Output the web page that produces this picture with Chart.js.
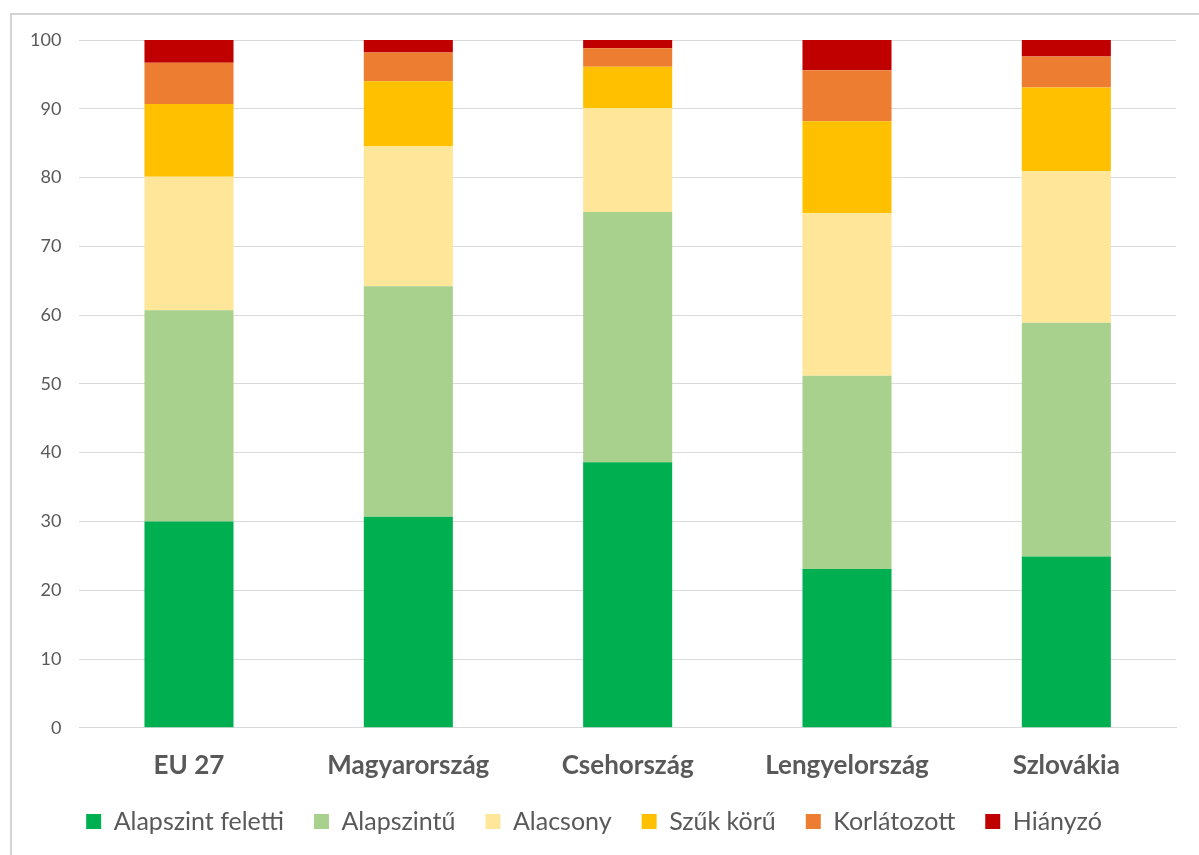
<!DOCTYPE html>
<html>
<head>
<meta charset="utf-8">
<script src="https://cdn.jsdelivr.net/npm/chart.js@4.4.0/dist/chart.umd.min.js"></script>
<style>
  html, body { margin: 0; padding: 0; background: #fff; overflow: hidden; }
  #frame { position: absolute; left: 10px; top: 13px; width: 1300px; height: 1000px; border: 2px solid #d4d4d4; box-sizing: border-box; }
  #wrap { position: absolute; left: 0; top: 0; width: 1199px; height: 855px; }
</style>
</head>
<body>
<div id="frame"></div>
<div id="wrap"><canvas id="c" width="1199" height="855"></canvas></div>
<script>
const categories = ["EU 27", "Magyarország", "Csehország", "Lengyelország", "Szlovákia"];
const seriesNames = ["Alapszint feletti", "Alapszintű", "Alacsony", "Szűk körű", "Korlátozott", "Hiányzó"];
const alapszintFeletti = [30.0, 30.7, 38.6, 23.1, 24.9];
const alapszintu       = [30.7, 33.5, 36.4, 28.1, 34.0];
const alacsony         = [19.4, 20.4, 15.1, 23.6, 22.0];
const szukKoru         = [10.6,  9.4,  6.0, 13.4, 12.2];
const korlatozott      = [ 6.0,  4.2,  2.7,  7.4,  4.5];
const hianyzo          = [ 3.3,  1.8,  1.2,  4.4,  2.4];
const colors = ["#00b050", "#a9d18e", "#ffe699", "#ffc000", "#ed7d31", "#c00000"];
const yTicks = [0, 10, 20, 30, 40, 50, 60, 70, 80, 90, 100];

const values = [alapszintFeletti, alapszintu, alacsony, szukKoru, korlatozott, hianyzo];
const datasets = seriesNames.map((n, i) => ({
  label: n,
  data: values[i],
  backgroundColor: colors[i],
  borderWidth: 0,
  categoryPercentage: 1.0,
  barPercentage: 0.406
}));

const LEGEND_SHIFT = 16;
const legendTighten = {
  id: 'legendTighten',
  afterInit(chart) {
    const lg = chart.legend;
    if (!lg) return;
    const origFit = lg.fit.bind(lg);
    lg.fit = function () { origFit(); if (this.isHorizontal()) this.height -= LEGEND_SHIFT; };
    const origDraw = lg.draw.bind(lg);
    lg.draw = function () {
      const t = this.top, h = this.height;
      this.top = t - LEGEND_SHIFT; this.height = h + LEGEND_SHIFT;
      origDraw();
      this.top = t; this.height = h;
    };
  }
};

new Chart(document.getElementById('c'), {
  type: 'bar',
  data: { labels: categories, datasets },
  plugins: [legendTighten],
  options: {
    responsive: false,
    animation: false,
    layout: { padding: { left: 12, right: 23, top: 40, bottom: 11 } },
    plugins: {
      tooltip: { enabled: false },
      legend: {
        position: 'bottom',
        labels: {
          boxWidth: 15, boxHeight: 15, padding: 30,
          color: '#595959',
          font: { family: 'Lato', size: 25 }
        }
      }
    },
    scales: {
      x: {
        stacked: true,
        grid: { display: false },
        border: { color: '#d9d9d9', width: 1 },
        ticks: { color: '#595959', font: { family: 'Lato', size: 26, weight: 'bold' }, padding: 14 }
      },
      y: {
        stacked: true,
        min: 0, max: 100,
        afterBuildTicks: (axis) => { axis.ticks = yTicks.map(v => ({ value: v })); },
        grid: { color: '#d9d9d9', lineWidth: 1, drawTicks: false },
        border: { display: false },
        ticks: { color: '#595959', font: { family: 'Lato', size: 18 }, padding: 18 }
      }
    }
  }
});
</script>
</body>
</html>
